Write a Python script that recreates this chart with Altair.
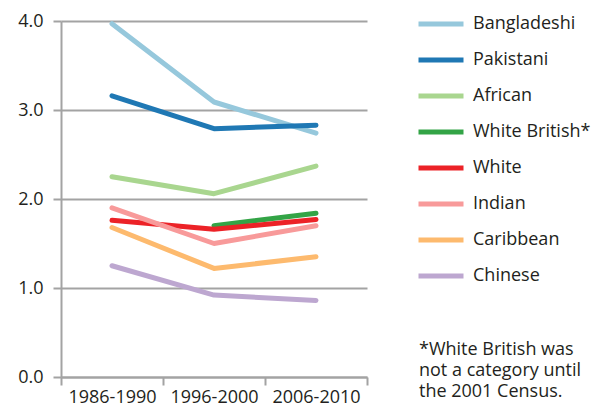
import altair as alt
import pandas as pd

periods = ["1986-1990", "1996-2000", "2006-2010"]
groups = ["Bangladeshi", "Pakistani", "African", "White British*", "White",
          "Indian", "Caribbean", "Chinese"]
colors = ["#96c8dc", "#1f78b4", "#a9d68f", "#33a446", "#ec2227",
          "#f89a9a", "#fdba6e", "#bda7d0"]
values = {
    "Bangladeshi":    [3.97, 3.09, 2.74],
    "Pakistani":      [3.16, 2.79, 2.83],
    "African":        [2.25, 2.06, 2.37],
    "White British*": [None, 1.70, 1.84],
    "White":          [1.76, 1.66, 1.77],
    "Indian":         [1.90, 1.50, 1.70],
    "Caribbean":      [1.68, 1.22, 1.35],
    "Chinese":        [1.25, 0.92, 0.86],
}
y_ticks = [0, 1, 2, 3, 4]
footnote = ["*White British was", "not a category until", "the 2001 Census."]

rows = []
for g in groups:
    for p, v in zip(periods, values[g]):
        if v is not None:
            rows.append({"period": p, "group": g, "value": v})
df = pd.DataFrame(rows)

FONT = "Open Sans"
TXT = "#231f20"
GRID = "#a3a3a3"

lines = alt.Chart(df).mark_line(strokeWidth=5, strokeCap="round", strokeJoin="round").encode(
    x=alt.X("period:N", sort=periods,
            scale=alt.Scale(paddingInner=0, paddingOuter=0),
            axis=alt.Axis(title=None, labelAngle=0, tickBand="extent", tickSize=8,
                          labelPadding=3, domainColor=GRID, tickColor=GRID,
                          domainWidth=2, tickWidth=2, grid=False,
                          labelFont=FONT, labelFontSize=18, labelColor=TXT)),
    y=alt.Y("value:Q", scale=alt.Scale(domain=[0, 4], nice=False),
            axis=alt.Axis(title=None, values=y_ticks, format=".1f", tickSize=8,
                          labelPadding=10, domainColor=GRID, tickColor=GRID,
                          domainWidth=2, tickWidth=2, gridColor=GRID, gridWidth=2,
                          labelFont=FONT, labelFontSize=18, labelColor=TXT)),
    color=alt.Color("group:N", sort=groups,
                    scale=alt.Scale(domain=groups, range=colors),
                    legend=alt.Legend(title=None, orient="none", legendX=355, legendY=-15,
                                      symbolType="stroke", symbolSize=2025,
                                      symbolStrokeWidth=5, clipHeight=36, rowPadding=0,
                                      labelOffset=7, labelFont=FONT, labelFontSize=18,
                                      labelColor=TXT)),
    detail="group:N",
)

note = alt.Chart(pd.DataFrame({"t": ["\n".join(footnote)]})).mark_text(
    align="left", baseline="middle", font=FONT, fontSize=18, color=TXT,
    lineBreak="\n", lineHeight=21
).encode(x=alt.value(358), y=alt.value(329), text="t:N")

chart = alt.layer(lines, note).properties(
    width=306, height=356,
    autosize=alt.AutoSizeParams(type="none"),
    padding={"left": 53, "top": 13, "right": 231, "bottom": 28},
).configure_view(stroke=None)

chart.save("out.html", embed_options={"renderer": "svg", "actions": False})
